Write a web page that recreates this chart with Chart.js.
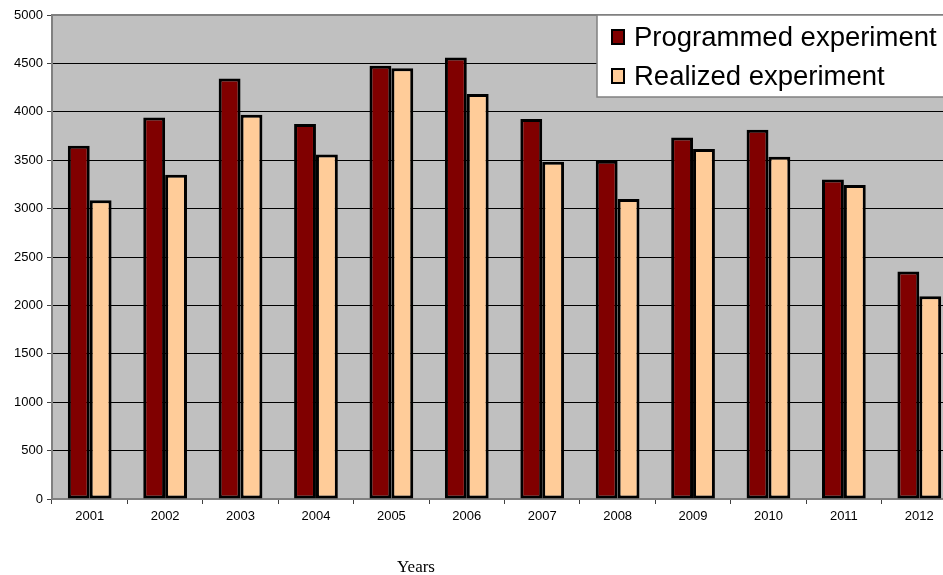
<!DOCTYPE html>
<html>
<head>
<meta charset="utf-8">
<script src="https://cdn.jsdelivr.net/npm/chart.js@4/dist/chart.umd.min.js"></script>
<style>
  html, body { margin: 0; padding: 0; background: #fff; overflow: hidden; width: 943px; height: 575px; }
  #wrap { position: relative; width: 960px; height: 575px; }
</style>
</head>
<body>
<div id="wrap"><canvas id="c" width="960" height="575"></canvas></div>
<script>
const years = ['2001','2002','2003','2004','2005','2006','2007','2008','2009','2010','2011','2012'];
const programmed = [3650, 3940, 4345, 3875, 4475, 4560, 3925, 3495, 3735, 3815, 3300, 2350];
const realized   = [3085, 3350, 3970, 3560, 4450, 4185, 3485, 3100, 3615, 3535, 3245, 2095];
const seriesLabels = ['Programmed experiment', 'Realized experiment'];
const seriesColors = ['#800000', '#FFCC99'];
const yTicks = [0, 500, 1000, 1500, 2000, 2500, 3000, 3500, 4000, 4500, 5000];
const xTitle = 'Years';

const plotBg = {
  id: 'plotBg',
  beforeDraw(chart) {
    const a = chart.chartArea, ctx = chart.ctx;
    ctx.save();
    ctx.fillStyle = '#C0C0C0';
    ctx.fillRect(a.left, a.top, a.right - a.left, a.bottom - a.top);
    ctx.restore();
  },
  afterDatasetsDraw(chart) {
    const a = chart.chartArea, ctx = chart.ctx;
    ctx.save();
    ctx.strokeStyle = '#808080';
    ctx.lineWidth = 2;
    ctx.beginPath();
    ctx.moveTo(a.left, a.top); ctx.lineTo(a.right, a.top);
    ctx.stroke();
    ctx.restore();
  }
};

const boxLegend = {
  id: 'boxLegend',
  afterDraw(chart) {
    const ctx = chart.ctx;
    const x0 = 597, y0 = 15, w = 400, h = 82;
    ctx.save();
    ctx.fillStyle = '#fff';
    ctx.fillRect(x0, y0, w, h);
    ctx.strokeStyle = '#808080';
    ctx.lineWidth = 1.5;
    ctx.strokeRect(x0, y0, w, h);
    ctx.font = '27.5px "Liberation Sans", Arial, sans-serif';
    ctx.textBaseline = 'alphabetic';
    chart.data.datasets.forEach((ds, i) => {
      const cy = 37 + i * 39;
      ctx.fillStyle = ds.backgroundColor;
      ctx.fillRect(612, cy - 7, 12, 14);
      ctx.strokeStyle = '#000';
      ctx.lineWidth = 2;
      ctx.strokeRect(612, cy - 7, 12, 14);
      ctx.fillStyle = '#000';
      ctx.fillText(ds.label, 634, cy + 9);
    });
    ctx.restore();
  }
};

const axisTitle = {
  id: 'axisTitle',
  afterDraw(chart) {
    const ctx = chart.ctx;
    ctx.save();
    ctx.font = '17px "Liberation Serif", "Times New Roman", serif';
    ctx.fillStyle = '#000';
    ctx.textAlign = 'center';
    ctx.textBaseline = 'alphabetic';
    ctx.fillText(xTitle, 416, 572);
    ctx.restore();
  }
};

new Chart(document.getElementById('c'), {
  type: 'bar',
  data: {
    labels: years,
    datasets: [
      { label: seriesLabels[0], data: programmed, backgroundColor: seriesColors[0], borderColor: '#000', borderWidth: 3, borderSkipped: false },
      { label: seriesLabels[1], data: realized, backgroundColor: seriesColors[1], borderColor: '#000', borderWidth: 3, borderSkipped: false }
    ]
  },
  options: {
    responsive: false,
    animation: false,
    devicePixelRatio: 1,
    layout: { padding: { top: 15, right: 3, left: 0, bottom: 0 } },
    datasets: { bar: { categoryPercentage: 0.58, barPercentage: 1.0 } },
    plugins: {
      legend: { display: false },
      tooltip: { enabled: false }
    },
    scales: {
      x: {
        offset: true,
        grid: { display: true, drawOnChartArea: false, drawTicks: true, tickLength: 5, offset: true, color: '#404040', lineWidth: 1 },
        border: { display: true, color: '#808080', width: 2 },
        ticks: { color: '#000', font: { family: '"Liberation Sans", Arial, sans-serif', size: 13 }, padding: 5, maxRotation: 0 },
        afterFit(s) { s.height = 76; }
      },
      y: {
        min: 0, max: 5000,
        afterBuildTicks(s) { s.ticks = yTicks.map(v => ({ value: v })); },
        grid: { color: '#000', lineWidth: 1, drawTicks: true, tickLength: 5, tickColor: '#404040' },
        border: { display: true, color: '#808080', width: 2 },
        ticks: { color: '#000', font: { family: '"Liberation Sans", Arial, sans-serif', size: 13 }, padding: 4, callback: v => String(v) },
        afterFit(s) { s.width = 52; }
      }
    }
  },
  plugins: [plotBg, boxLegend, axisTitle]
});
</script>
</body>
</html>
